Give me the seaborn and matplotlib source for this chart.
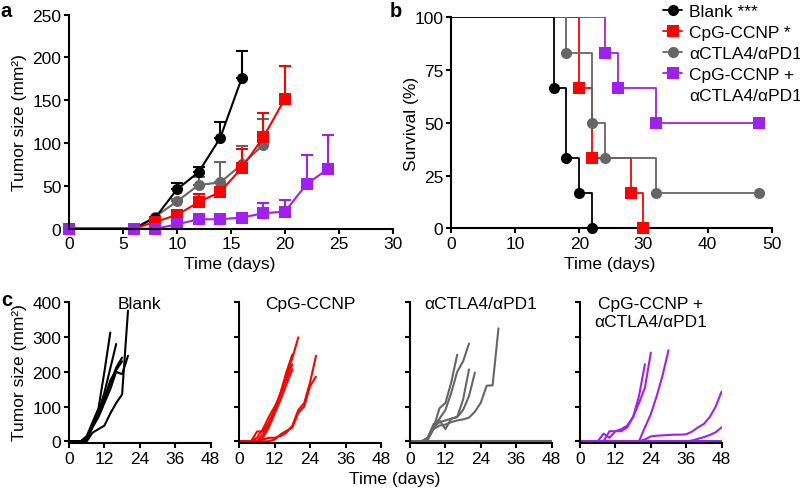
import matplotlib
matplotlib.use("Agg")
import matplotlib.pyplot as plt
from matplotlib.lines import Line2D
import seaborn as sns
import pandas as pd
import numpy as np

# ---------------- data ----------------
groups = ["Blank", "CpG-CCNP", "αCTLA4/αPD1", "CpG-CCNP + αCTLA4/αPD1"]
group_colors = ["#000000", "#ff0000", "#666666", "#a020f0"]
group_markers = ["o", "s", "o", "s"]
legend_labels = ["Blank ***", "CpG-CCNP *", "αCTLA4/αPD1", "CpG-CCNP +", "αCTLA4/αPD1"]
c_titles = ["Blank", "CpG-CCNP", "αCTLA4/αPD1", "CpG-CCNP +\nαCTLA4/αPD1"]

# (a) mean tumor size and upper SEM
a_days_blank = [0, 6, 8, 10, 12, 14, 16]
a_mean_blank = [0, 0, 13, 46, 66, 106, 176]
a_sem_blank = [0, 0, 0, 7, 6, 19, 32]

a_days_cpg = [0, 6, 8, 10, 12, 14, 16, 18, 20]
a_mean_cpg = [0, 0, 8, 16, 31, 43, 71, 107, 152]
a_sem_cpg = [0, 0, 0, 0, 10, 4, 22, 28, 38]

a_days_ab = [0, 6, 8, 10, 12, 14, 16, 18]
a_mean_ab = [0, 0, 14, 32, 51, 54, 75, 98]
a_sem_ab = [0, 0, 0, 3, 9, 24, 22, 30]

a_days_combo = [0, 6, 8, 10, 12, 14, 16, 18, 20, 22, 24]
a_mean_combo = [0, 0, 0, 5, 11, 11, 13, 18, 20, 52, 70]
a_sem_combo = [0, 0, 0, 0, 0, 0, 2, 12, 13, 34, 39]

# (b) Kaplan-Meier survival (first point = start at 100%)
b_days_blank = [0, 16, 18, 20, 22]
b_surv_blank = [100, 66.7, 33.3, 16.7, 0]
b_days_cpg = [0, 20, 22, 28, 30]
b_surv_cpg = [100, 66.7, 33.3, 16.7, 0]
b_days_ab = [0, 18, 22, 24, 32, 48]
b_surv_ab = [100, 83.3, 50, 33.3, 16.7, 16.7]
b_days_combo = [0, 24, 26, 32, 48]
b_surv_combo = [100, 83.3, 66.7, 50, 50]

# (c) individual tumor growth, measured every 2 days from day 0
c_days = list(range(0, 50, 2))
c_blank = [
    [0, 0, 0, 15, 55, 95, 200, 313],
    [0, 0, 0, 10, 50, 85, 140, 210, 280],
    [0, 0, 0, 0, 25, 35, 45, 80, 110, 135, 376],
    [0, 0, 0, 10, 45, 80, 120, 165, 212, 241],
    [0, 0, 0, 5, 40, 70, 110, 150, 200, 193, 246],
    [0, 0, 0, 10, 50, 85, 125, 175, 205, 230],
]
c_cpg = [
    [0, 0, 0, 28, 28, 55, 90, 140, 190, 240, 299],
    [0, 0, 0, 0, 20, 50, 90, 140, 200, 250],
    [0, 0, 0, 10, 35, 70, 100, 135, 180, 222],
    [0, 0, 0, 0, 10, 40, 80, 120, 165, 207],
    [0, 0, 0, 0, 5, 10, 10, 15, 25, 45, 90, 110, 170, 246],
    [0, 0, 0, 0, 0, 0, 5, 20, 30, 40, 82, 100, 159, 186],
]
c_ab = [
    [0, 0, 0, 10, 40, 95, 110, 170, 249],
    [0, 0, 0, 10, 45, 65, 90, 140, 200, 230, 281],
    [0, 0, 0, 8, 50, 60, 35, 65, 70, 120, 207],
    [0, 0, 0, 5, 40, 55, 60, 65, 70, 90, 130, 198],
    [0, 0, 0, 5, 35, 45, 48, 55, 60, 63, 68, 85, 111, 160, 161, 325],
    [0] * 25,
]
c_combo = [
    [0, 0, 0, 0, 22, 10, 29, 29, 40, 70, 130, 222],
    [0, 0, 0, 0, 0, 29, 29, 35, 45, 70, 110, 154, 255],
    [0, 0, 0, 0, 0, 0, 0, 0, 0, 0, 0, 40, 78, 130, 190, 262],
    [0, 0, 0, 0, 0, 0, 0, 0, 0, 0, 0, 5, 14, 16, 17, 18, 19, 19, 20, 28, 40, 50, 70, 100, 143],
    [0] * 19 + [2, 7, 12, 18, 26, 40],
    [0] * 25,
]

W, H = 800, 489


def fx(px):
    return px / W


def fy(py):
    return 1 - py / H


def plot_figure():
    sns.set_theme(style="ticks")
    fs = 12.5
    plt.rcParams.update({
        "font.family": ["Liberation Sans", "DejaVu Sans"],
        "font.size": fs,
        "axes.labelsize": fs,
        "xtick.labelsize": fs,
        "ytick.labelsize": fs,
        "axes.linewidth": 1.5,
        "axes.edgecolor": "black",
        "xtick.major.width": 1.5,
        "ytick.major.width": 1.5,
        "xtick.major.size": 3.5,
        "ytick.major.size": 3.5,
        "xtick.major.pad": 2,
        "ytick.major.pad": 2,
        "xtick.color": "black",
        "ytick.color": "black",
        "axes.labelcolor": "black",
        "text.color": "black",
    })

    fig = plt.figure(figsize=(8, 4.89), dpi=100)

    # --- (a) mean growth curves ---
    ax_a = fig.add_axes([0.08625, 0.5303, 0.405, 0.4376])
    df_a = pd.concat([
        pd.DataFrame({"group": g, "day": d, "mean": m, "sem": s})
        for g, d, m, s in zip(groups,
                              [a_days_blank, a_days_cpg, a_days_ab, a_days_combo],
                              [a_mean_blank, a_mean_cpg, a_mean_ab, a_mean_combo],
                              [a_sem_blank, a_sem_cpg, a_sem_ab, a_sem_combo])
    ])
    for i in [2, 0, 1, 3]:  # draw order: grey, black, red, purple
        sub = df_a[df_a["group"] == groups[i]]
        err = sub[sub["sem"] > 0]
        ax_a.errorbar(err["day"], err["mean"], yerr=[np.zeros(len(err)), err["sem"]],
                      fmt="none", ecolor=group_colors[i], elinewidth=1.5,
                      capsize=4.5, capthick=1.5)
        sns.lineplot(data=sub, x="day", y="mean", color=group_colors[i],
                     marker=group_markers[i], markersize=8, markeredgewidth=0,
                     linewidth=1.5, clip_on=False, ax=ax_a)
    ax_a.set_xlim(0, 30)
    ax_a.set_ylim(0, 250)
    ax_a.set_xticks(range(0, 31, 5))
    ax_a.set_yticks(range(0, 251, 50))
    ax_a.set_xlabel("")
    ax_a.set_ylabel("")
    fig.text(fx(230), fy(264), "Time (days)", ha="center", va="center")
    fig.text(fx(20), fy(123), "Tumor size (mm²)", ha="center", va="center", rotation=90)

    # --- (b) survival ---
    ax_b = fig.add_axes([0.5638, 0.5311, 0.4009, 0.4315])
    b_days = [b_days_blank, b_days_cpg, b_days_ab, b_days_combo]
    b_surv = [b_surv_blank, b_surv_cpg, b_surv_ab, b_surv_combo]
    for i in [3, 1, 2, 0]:
        df_b = pd.DataFrame({"day": b_days[i], "surv": b_surv[i]})
        sns.lineplot(data=df_b, x="day", y="surv", color=group_colors[i],
                     drawstyle="steps-post", linewidth=1.3, ax=ax_b)
        sns.scatterplot(data=df_b.iloc[1:], x="day", y="surv", color=group_colors[i],
                        marker=group_markers[i], s=64, linewidth=0,
                        clip_on=False, zorder=3, ax=ax_b)
    ax_b.set_xlim(0, 50)
    ax_b.set_ylim(0, 100)
    ax_b.set_xticks(range(0, 51, 10))
    ax_b.set_yticks(range(0, 101, 25))
    ax_b.set_xlabel("")
    ax_b.set_ylabel("")
    fig.text(fx(610), fy(264), "Time (days)", ha="center", va="center")
    fig.text(fx(411), fy(124), "Survival (%)", ha="center", va="center", rotation=90)

    handles = [Line2D([], [], color=c, marker=m, markersize=8, markeredgewidth=0, linewidth=1.3)
               for c, m in zip(group_colors, group_markers)]
    handles.append(Line2D([], [], linestyle="none"))
    fig.legend(handles, legend_labels, loc="upper left", bbox_to_anchor=(fx(663), fy(5)),
               frameon=False, borderpad=0, borderaxespad=0, handlelength=1.1,
               handletextpad=0.4, labelspacing=0.33, fontsize=fs)

    # --- (c) individual curves ---
    c_data = [c_blank, c_cpg, c_ab, c_combo]
    lefts = [69, 239.3, 410, 580]
    for k in range(4):
        ax = fig.add_axes([fx(lefts[k]), fy(444), 0.177, fy(303.3) - fy(444)])
        rows = []
        for j, vals in enumerate(c_data[k]):
            for d, v in zip(c_days, vals):
                rows.append({"mouse": j, "day": d, "size": v})
        df_c = pd.DataFrame(rows)
        sns.lineplot(data=df_c, x="day", y="size", units="mouse", estimator=None,
                     color=group_colors[k], linewidth=1.5, ax=ax)
        ax.set_xlim(0, 48)
        ax.set_ylim(-5, 400)
        ax.set_xticks(range(0, 49, 12))
        ax.set_yticks(range(0, 401, 100))
        ax.set_xlabel("")
        ax.set_ylabel("")
        if k > 0:
            ax.set_yticklabels([])
        ax.text(0.5, 1.045, c_titles[k], transform=ax.transAxes, ha="center", va="top",
                fontsize=fs, linespacing=1.25)
        sns.despine(ax=ax)
    fig.text(fx(20), fy(373), "Tumor size (mm²)", ha="center", va="center", rotation=90)
    fig.text(fx(395), fy(480), "Time (days)", ha="center", va="center")

    sns.despine(ax=ax_a)
    sns.despine(ax=ax_b)

    # panel letters
    fig.text(0.001, fy(17), "a", fontsize=14.5, fontweight="bold", va="baseline")
    fig.text(fx(390), fy(17), "b", fontsize=14.5, fontweight="bold", va="baseline")
    fig.text(0.001, fy(306), "c", fontsize=14.5, fontweight="bold", va="baseline")

    fig.savefig("out.png", dpi=100)


if __name__ == "__main__":
    plot_figure()
